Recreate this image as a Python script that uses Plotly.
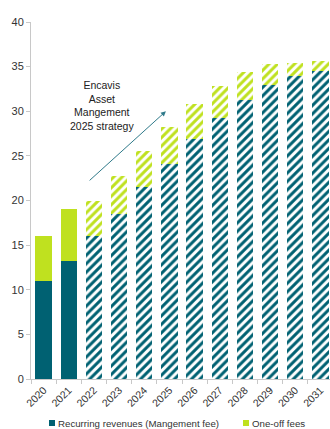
import plotly.graph_objects as go

years = ["2020", "2021", "2022", "2023", "2024", "2025",
         "2026", "2027", "2028", "2029", "2030", "2031"]
recurring = [11.0, 13.2, 16.0, 18.5, 21.5, 24.1, 26.9, 29.2, 31.3, 32.9, 33.9, 34.5]
one_off = [5.0, 5.8, 3.9, 4.2, 4.0, 4.1, 3.9, 3.6, 3.1, 2.4, 1.5, 1.1]
y_ticks = [0, 5, 10, 15, 20, 25, 30, 35, 40]

TEAL = "#006172"
LIME = "#bfe11f"
TEXT = "#333333"
FONT = "Liberation Sans, Arial"
n_actual = 2  # 2020-2021 are actuals, the rest are forecasts (hatched)

def pattern(color):
    shapes = ["" if i < n_actual else "/" for i in range(len(years))]
    return dict(shape=shapes, fgcolor=color, bgcolor="white",
                fillmode="replace", size=6, solidity=0.5)

series = [
    ("Recurring revenues (Mangement fee)", recurring, TEAL),
    ("One-off fees", one_off, LIME),
]

fig = go.Figure()
for name, vals, color in series:
    fig.add_trace(go.Bar(
        x=years, y=vals, name=name, showlegend=False,
        marker=dict(color=color, line=dict(width=0), pattern=pattern(color)),
    ))

# strategy arrow and caption
fig.add_annotation(
    x=4.86, y=30.0, ax=1.77, ay=22.1, xref="x", yref="y", axref="x", ayref="y",
    text="", showarrow=True, arrowhead=2, arrowsize=1, arrowwidth=1,
    arrowcolor="#2f7a8a",
)
fig.add_annotation(
    x=2.32, y=30.6, xref="x", yref="y",
    text="Encavis<br>Asset<br>Mangement<br>2025 strategy",
    showarrow=False, align="center",
    font=dict(family=FONT, size=10.5, color="#222222"),
)

# single-row legend below the axis (pixel positions in paper space)
W, H = 330, 429
legend_items = [(49, series[0][0], TEAL), (243, series[1][0], LIME)]
ly = 423
for px, label, color in legend_items:
    fig.add_shape(type="rect", xref="paper", yref="paper",
                  x0=(px - 31) / (W - 31), x1=(px + 6 - 31) / (W - 31),
                  y0=-(ly + 3 - 379) / (379 - 22), y1=-(ly - 3 - 379) / (379 - 22),
                  fillcolor=color, line=dict(width=0))
    fig.add_annotation(x=(px + 7 - 31) / (W - 31), y=-(ly - 379) / (379 - 22),
                       xref="paper", yref="paper", xanchor="left", yanchor="middle",
                       text=label, showarrow=False,
                       font=dict(family=FONT, size=9.7, color=TEXT))

fig.update_layout(
    width=W, height=H,
    margin=dict(l=31, r=0, t=22, b=50),
    barmode="stack", bargap=0.35,
    plot_bgcolor="white", paper_bgcolor="white",
    font=dict(family=FONT, size=11, color=TEXT),
    showlegend=False,
    xaxis=dict(
        type="category", range=[-0.5, 11.38], tickangle=-45,
        showline=True, linecolor="#c8c8c8", linewidth=1,
        ticks="outside", tickson="boundaries", ticklen=4, tickcolor="#c8c8c8",
        showgrid=False, tickfont=dict(size=10.5, color=TEXT),
    ),
    yaxis=dict(
        range=[0, 40], tickvals=y_ticks, showgrid=False, zeroline=False,
        showline=True, linecolor="#c8c8c8", linewidth=1,
        ticks="outside", ticklen=4, tickcolor="#c8c8c8",
        tickfont=dict(size=11, color=TEXT),
    ),
)

fig.write_html("out.html")
